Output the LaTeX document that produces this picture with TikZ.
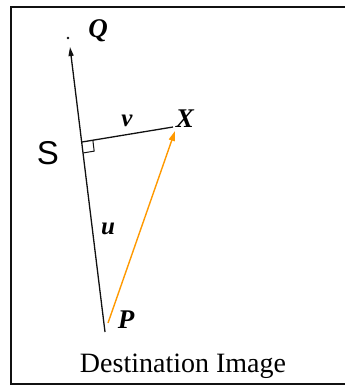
\documentclass[tikz,border=0pt]{standalone}
\usepackage{fontspec}
\setmainfont{Liberation Serif}
\newfontfamily\sflabel{Liberation Sans}
\usepackage{tikz}
\usetikzlibrary{arrows.meta,positioning,calc}
\definecolor{org}{HTML}{FF9900}
\definecolor{ink}{HTML}{111111}
\tikzset{
  frm/.style={draw=ink,line width=1.6pt},
  ln/.style={draw=ink,line width=1.3pt},
  ar/.style={ln,-{Triangle[length=9pt,width=5pt]}},
  oar/.style={draw=org,line width=1.4pt,-{Triangle[length=10pt,width=6pt]}},
  lbl/.style={inner sep=0pt,font=\fontsize{27}{27}\selectfont\bfseries\itshape},
  slbl/.style={lbl,font=\fontsize{25}{25}\selectfont\bfseries\itshape},
  ttl/.style={inner sep=0pt,font=\fontsize{28}{28}\selectfont},
}

\begin{document}
\begin{tikzpicture}[x=1pt,y=-1pt]
\useasboundingbox (0,0) rectangle (345,386);
% frame, open on the right
\draw[frm] (345,7) -- (11,7) -- (11,384) -- (345,384);
% points
\coordinate (P) at (105,332);
\coordinate (Qt) at (70,47);
\coordinate (F) at (82,142);
\coordinate (X) at (173,127);
\coordinate (Pa) at (108,323);
\coordinate (Xa) at (175,131);
\fill[ink] (68,38) circle (1.4pt);
% lines
\draw[ar] (P) -- (Qt);
\draw[ln] (F) -- (X);
\draw[oar] (Pa) -- (Xa);
% right angle
\coordinate (Fp) at ($(F)!11pt!(P)$);
\coordinate (Fx) at ($(F)!11pt!(X)$);
\draw[ln,line width=1pt] (Fp) -- ($(Fp)+(Fx)-(F)$) -- (Fx);
% labels
\node[lbl] (q) at (98,31) {Q};
\node[lbl] (x) at (185,119) {X};
\node[slbl] (v) at (127,121) {v};
\node[slbl] (u) at (108,229) {u};
\node[lbl] (p) at (126,320) {P};
\node[inner sep=0pt,font=\sflabel\fontsize{33}{33}\selectfont] (s) at (48,153) {S};
\node[ttl] (dst) at (183,366) {Destination Image};
\end{tikzpicture}
\end{document}
